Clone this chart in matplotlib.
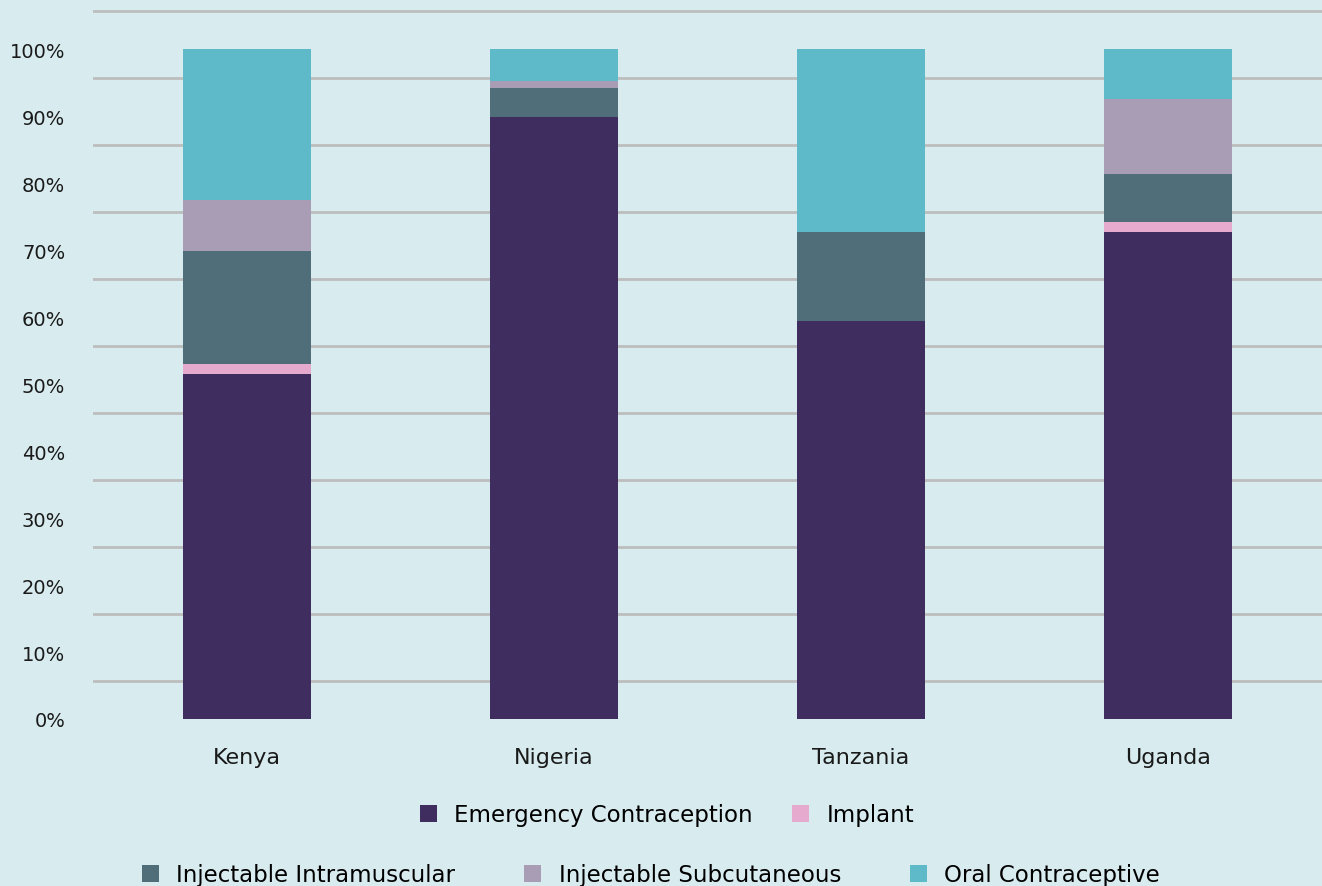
import matplotlib
matplotlib.use("Agg")
import matplotlib.pyplot as plt
import numpy as np
from matplotlib.ticker import FixedLocator

plt.rcParams['font.family'] = ['DejaVu Sans']

# --- data (share of each method, %) ---
countries = ['Kenya', 'Nigeria', 'Tanzania', 'Uganda']
methods = ['Emergency Contraception', 'Implant', 'Injectable Intramuscular',
           'Injectable Subcutaneous', 'Oral Contraceptive']
emergency = [51.5, 89.9, 59.4, 72.7]
implant = [1.5, 0.0, 0.0, 1.5]
inj_im = [16.9, 4.3, 13.3, 7.1]
inj_sc = [7.6, 1.0, 0.0, 11.2]
oral = [22.5, 4.8, 27.3, 7.5]
yticks = [0, 10, 20, 30, 40, 50, 60, 70, 80, 90, 100]
ytick_labels = [f'{t}%' for t in yticks]
grid_pos = [5.7, 15.7, 25.7, 35.7, 45.7, 55.7, 65.7, 75.7, 85.7, 95.7, 105.7]

colors = ['#3f2d5f', '#e6aace', '#506e7a', '#a99cb5', '#5ebac8']
bg = '#d8ebef'

fig = plt.figure(figsize=(13.22, 8.87), dpi=100, facecolor=bg)
ax = fig.add_axes([93 / 1322, 1 - 720 / 887, 1 - 93 / 1322, 720 / 887])
ax.set_facecolor(bg)

x = np.arange(len(countries))
bottom = np.zeros(len(countries))
bars = []
for vals, col, name in zip([emergency, implant, inj_im, inj_sc, oral], colors, methods):
    b = ax.bar(x, vals, width=0.417, bottom=bottom, color=col, label=name, zorder=3)
    bars.append(b)
    bottom += np.array(vals)

ax.set_xlim(-0.5, 3.5)
ax.set_ylim(0, 107.5)

ax.set_yticks(yticks)
ax.set_yticklabels(ytick_labels)
ax.yaxis.set_minor_locator(FixedLocator(grid_pos))
ax.grid(which='minor', axis='y', color='#bdbdbd', linewidth=2, zorder=0)
ax.tick_params(axis='y', which='both', length=0, pad=20, labelsize=14, labelcolor='#1a1a1a')
ax.set_xticks(x)
ax.set_xticklabels(countries)
ax.tick_params(axis='x', length=0, pad=20, labelsize=16, labelcolor='#1a1a1a')
for s in ax.spines.values():
    s.set_visible(False)

# legend in two rows
leg_kw = dict(loc='center', frameon=False, fontsize=16.5, handlelength=0.75,
              handleheight=0.8, handletextpad=0.75)
fig.legend(bars[:2], methods[:2], bbox_to_anchor=(667 / 1322, 1 - 816 / 887),
           ncol=2, columnspacing=1.7, **leg_kw)
fig.legend(bars[2:], methods[2:], bbox_to_anchor=(651 / 1322, 1 - 876 / 887),
           ncol=3, columnspacing=3.0, **leg_kw)

fig.savefig('out.png', dpi=100, facecolor=bg)
